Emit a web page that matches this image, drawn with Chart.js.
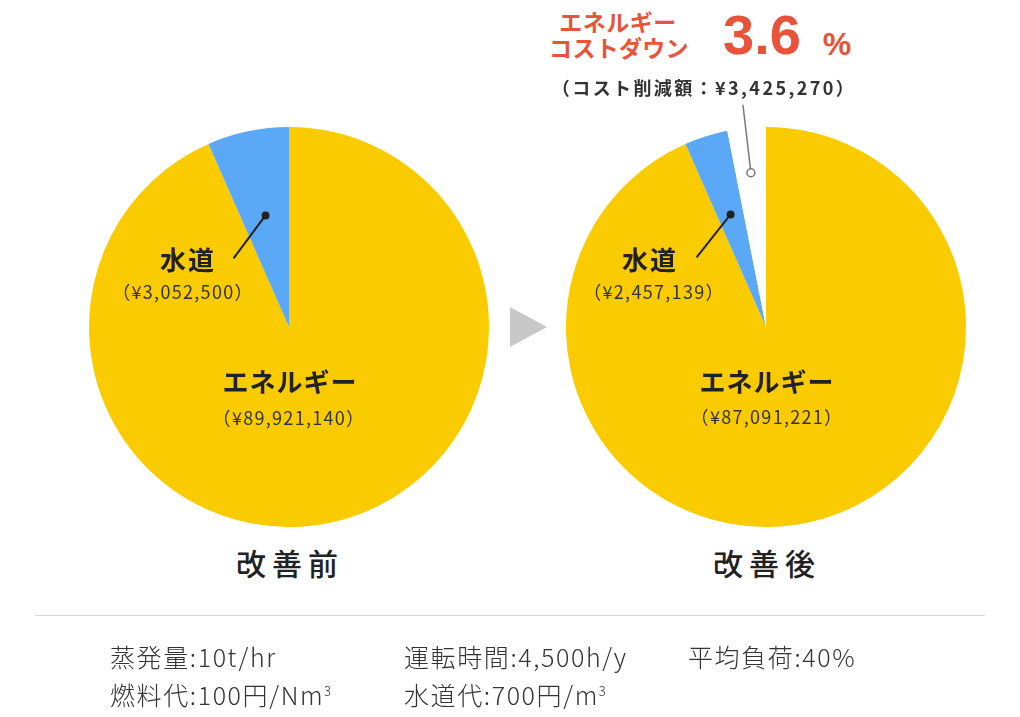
<!DOCTYPE html>
<html lang="ja">
<head>
<meta charset="utf-8">
<script src="https://cdn.jsdelivr.net/npm/chart.js@4/dist/chart.umd.min.js"></script>
<style>
  html,body{margin:0;padding:0;background:#fff;}
  #stage{position:relative;width:1020px;height:717px;overflow:hidden;background:#fff;
    font-family:"Noto Sans CJK JP","Noto Sans",sans-serif;color:#222;}
  .pie{position:absolute;width:400px;height:440px;top:87px;}
  .t{position:absolute;white-space:nowrap;transform:translate(-50%,-50%);line-height:1;}
  .name{font-weight:700;color:#222;}
  .val{font-size:18px;color:#333;font-weight:400;letter-spacing:1.3px;}
  .cap{font-size:30px;font-weight:500;letter-spacing:6px;color:#222;}
  .foot{position:absolute;font-size:25px;font-weight:300;color:#333;white-space:nowrap;line-height:1;transform:translateY(-50%);letter-spacing:1.6px;}
  .red{color:#E8533A;}
</style>
</head>
<body>
<div id="stage">
  <div class="pie" style="left:89px"><canvas id="before"></canvas></div>
  <div class="pie" style="left:566px"><canvas id="after"></canvas></div>

  <div class="t name" id="wBeforeName" style="left:188px;top:259px;font-size:26px;letter-spacing:2px">水道</div>
  <div class="t val" id="wBeforeVal" style="left:183px;top:291px"></div>
  <div class="t name" id="eBeforeName" style="left:290px;top:381px;font-size:26px;letter-spacing:1px">エネルギー</div>
  <div class="t val" id="eBeforeVal" style="left:289px;top:417px"></div>

  <div class="t name" id="wAfterName" style="left:650px;top:259px;font-size:26px;letter-spacing:2px">水道</div>
  <div class="t val" id="wAfterVal" style="left:654px;top:291px"></div>
  <div class="t name" id="eAfterName" style="left:767px;top:381px;font-size:26px;letter-spacing:1px">エネルギー</div>
  <div class="t val" id="eAfterVal" style="left:767px;top:416px"></div>

  <div class="t red" style="left:618px;top:21px;font-size:23px;font-weight:700;letter-spacing:0.5px">エネルギー</div>
  <div class="t red" style="left:619px;top:47px;font-size:23px;font-weight:700;letter-spacing:0.3px">コストダウン</div>
  <div class="t red" id="rate" style="left:762px;top:35px;font-family:'Liberation Sans',Arial,sans-serif;font-size:56px;font-weight:700;"></div>
  <div class="t red" style="left:837px;top:44px;font-family:'Liberation Sans',Arial,sans-serif;font-size:32px;font-weight:700;">%</div>
  <div class="t" id="saving" style="left:704px;top:87px;font-size:18px;font-weight:700;color:#333;letter-spacing:2.4px"></div>

  <div class="t cap" style="left:290px;top:562px">改善前</div>
  <div class="t cap" style="left:767px;top:562px">改善後</div>

  <svg style="position:absolute;left:0;top:0" width="1020" height="717">
    <polygon points="510,307 547,327 510,347" fill="#C8C8C8"/>
    <line x1="35" y1="615.5" x2="985" y2="615.5" stroke="#D6D6D6" stroke-width="1"/>
  </svg>

  <div class="foot" style="left:110px;top:656px">蒸発量:10t/hr</div>
  <div class="foot" style="left:404px;top:656px">運転時間:4,500h/y</div>
  <div class="foot" style="left:688px;top:656px">平均負荷:40%</div>
  <div class="foot" style="left:110px;top:694px">燃料代:100円/Nm<sup style="font-size:13px;vertical-align:9px">3</sup></div>
  <div class="foot" style="left:404px;top:694px">水道代:700円/m<sup style="font-size:13px;vertical-align:9px">3</sup></div>
</div>
<script>
// ---- data ----
const categories = ['エネルギー', '水道', 'コスト削減'];
// slice shares as drawn in the picture (%)
const beforeShares = [93.4, 6.6];
const afterShares = [93.4, 3.5, 3.1];
// labelled costs (yen)
const beforeCosts = [89921140, 3052500];
const afterCosts = [87091221, 2457139];
const savingCost = 3425270;
const savingRate = 3.6;
const colors = ['#FACC00', '#5BA9F6', '#FFFFFF'];

const yen = v => '（¥' + v.toLocaleString('en-US') + '）';
document.getElementById('wBeforeVal').textContent = yen(beforeCosts[1]);
document.getElementById('eBeforeVal').textContent = yen(beforeCosts[0]);
document.getElementById('wAfterVal').textContent = yen(afterCosts[1]);
document.getElementById('eAfterVal').textContent = yen(afterCosts[0]);
document.getElementById('rate').textContent = savingRate.toFixed(1);
document.getElementById('saving').textContent = '（コスト削減額：¥' + savingCost.toLocaleString('en-US') + '）';

const leaderPlugin = {
  id: 'leaders',
  afterDatasetsDraw(chart, args, opts) {
    const ctx = chart.ctx;
    const arcs = chart.getDatasetMeta(0).data;
    const at = (arc, f) => {
      const p = arc.getProps(['x','y','startAngle','endAngle','outerRadius'], true);
      const a = (p.startAngle + p.endAngle) / 2;
      return {x: p.x + Math.cos(a) * p.outerRadius * f, y: p.y + Math.sin(a) * p.outerRadius * f};
    };
    (opts.items || []).forEach(it => {
      const arc = arcs[it.index];
      if (!arc) return;
      const p = at(arc, it.r);
      ctx.save();
      ctx.strokeStyle = it.color;
      ctx.lineWidth = it.lineWidth;
      ctx.beginPath();
      ctx.moveTo(p.x, p.y);
      ctx.lineTo(p.x + it.dx, p.y + it.dy);
      ctx.stroke();
      ctx.beginPath();
      ctx.arc(p.x, p.y, it.dot, 0, Math.PI * 2);
      if (it.hollow) { ctx.fillStyle = '#fff'; ctx.fill(); ctx.stroke(); }
      else { ctx.fillStyle = it.color; ctx.fill(); }
      ctx.restore();
    });
  }
};

function makePie(id, shares, items) {
  return new Chart(document.getElementById(id), {
    type: 'pie',
    data: {
      labels: categories.slice(0, shares.length),
      datasets: [{ data: shares, backgroundColor: colors.slice(0, shares.length), borderWidth: 0 }]
    },
    options: {
      responsive: true, maintainAspectRatio: false, animation: false,
      layout: { padding: { top: 40, bottom: 0, left: 0, right: 0 } },
      plugins: { legend: { display: false }, tooltip: { enabled: false }, leaders: { items } }
    },
    plugins: [leaderPlugin]
  });
}

makePie('before', beforeShares, [
  {index: 1, r: 0.57, dx: -32, dy: 43, color: '#222', lineWidth: 2, dot: 4}
]);
makePie('after', afterShares, [
  {index: 1, r: 0.59, dx: -34, dy: 43, color: '#222', lineWidth: 2, dot: 4},
  {index: 2, r: 0.775, dx: -8, dy: -68, color: '#777', lineWidth: 1.5, dot: 4, hollow: true}
]);
</script>
</body>
</html>
